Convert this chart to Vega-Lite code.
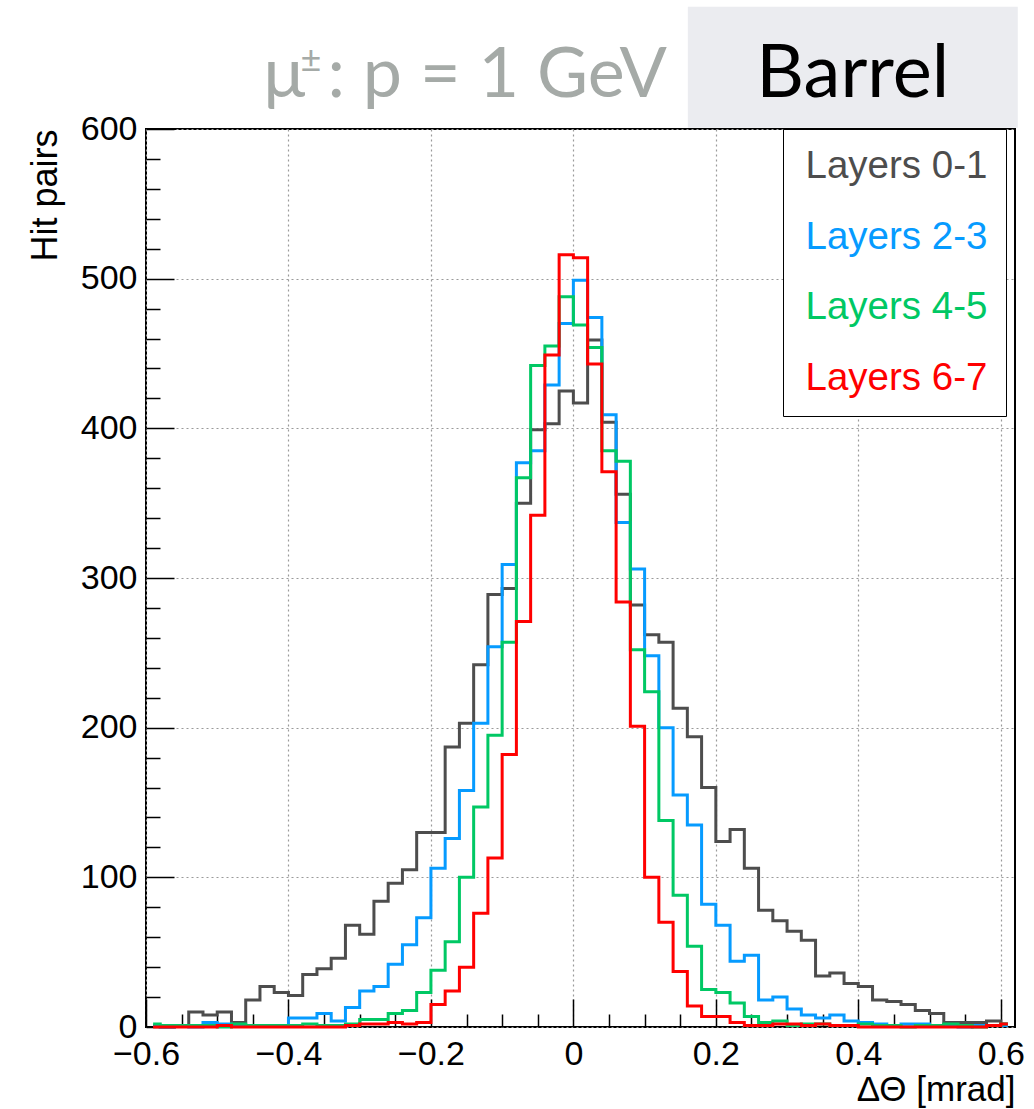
{
  "$schema": "https://vega.github.io/schema/vega-lite/v6.json",
  "width": 869,
  "height": 898,
  "autosize": {"type": "none"},
  "padding": {"left": 146, "top": 129, "right": 19, "bottom": 82},
  "background": "white",
  "config": {
    "view": {"stroke": "black", "strokeWidth": 2},
    "font": "Liberation Sans"
  },
  "datasets": {
    "hist": [
      {"x": -0.59, "Layers 0-1": 1, "Layers 2-3": 1, "Layers 4-5": 2, "Layers 6-7": 0},
      {"x": -0.57, "Layers 0-1": 0, "Layers 2-3": 0, "Layers 4-5": 1, "Layers 6-7": 0},
      {"x": -0.55, "Layers 0-1": 1, "Layers 2-3": 1, "Layers 4-5": 1, "Layers 6-7": 0},
      {"x": -0.53, "Layers 0-1": 10, "Layers 2-3": 0, "Layers 4-5": 1, "Layers 6-7": 0},
      {"x": -0.51, "Layers 0-1": 8, "Layers 2-3": 3, "Layers 4-5": 1, "Layers 6-7": 0},
      {"x": -0.49, "Layers 0-1": 10, "Layers 2-3": 2, "Layers 4-5": 0, "Layers 6-7": 1},
      {"x": -0.47, "Layers 0-1": 3, "Layers 2-3": 1, "Layers 4-5": 2, "Layers 6-7": 0},
      {"x": -0.45, "Layers 0-1": 18, "Layers 2-3": 1, "Layers 4-5": 1, "Layers 6-7": 0},
      {"x": -0.43, "Layers 0-1": 27, "Layers 2-3": 1, "Layers 4-5": 1, "Layers 6-7": 0},
      {"x": -0.41, "Layers 0-1": 23, "Layers 2-3": 1, "Layers 4-5": 1, "Layers 6-7": 0},
      {"x": -0.39, "Layers 0-1": 21, "Layers 2-3": 6, "Layers 4-5": 1, "Layers 6-7": 0},
      {"x": -0.37, "Layers 0-1": 35, "Layers 2-3": 6, "Layers 4-5": 2, "Layers 6-7": 0},
      {"x": -0.35, "Layers 0-1": 39, "Layers 2-3": 9, "Layers 4-5": 1, "Layers 6-7": 0},
      {"x": -0.33, "Layers 0-1": 46, "Layers 2-3": 4, "Layers 4-5": 1, "Layers 6-7": 0},
      {"x": -0.31, "Layers 0-1": 68, "Layers 2-3": 13, "Layers 4-5": 2, "Layers 6-7": 1},
      {"x": -0.29, "Layers 0-1": 62, "Layers 2-3": 24, "Layers 4-5": 5, "Layers 6-7": 2},
      {"x": -0.27, "Layers 0-1": 84, "Layers 2-3": 27, "Layers 4-5": 5, "Layers 6-7": 2},
      {"x": -0.25, "Layers 0-1": 96, "Layers 2-3": 42, "Layers 4-5": 9, "Layers 6-7": 3},
      {"x": -0.23, "Layers 0-1": 105, "Layers 2-3": 55, "Layers 4-5": 11, "Layers 6-7": 2},
      {"x": -0.21, "Layers 0-1": 130, "Layers 2-3": 73, "Layers 4-5": 23, "Layers 6-7": 3},
      {"x": -0.19, "Layers 0-1": 130, "Layers 2-3": 106, "Layers 4-5": 38, "Layers 6-7": 15},
      {"x": -0.17, "Layers 0-1": 187, "Layers 2-3": 126, "Layers 4-5": 57, "Layers 6-7": 24},
      {"x": -0.15, "Layers 0-1": 203, "Layers 2-3": 158, "Layers 4-5": 100, "Layers 6-7": 40},
      {"x": -0.13, "Layers 0-1": 242, "Layers 2-3": 203, "Layers 4-5": 147, "Layers 6-7": 76},
      {"x": -0.11, "Layers 0-1": 289, "Layers 2-3": 254, "Layers 4-5": 195, "Layers 6-7": 113},
      {"x": -0.09, "Layers 0-1": 293, "Layers 2-3": 309, "Layers 4-5": 257, "Layers 6-7": 182},
      {"x": -0.07, "Layers 0-1": 350, "Layers 2-3": 377, "Layers 4-5": 367, "Layers 6-7": 271},
      {"x": -0.05, "Layers 0-1": 399, "Layers 2-3": 385, "Layers 4-5": 442, "Layers 6-7": 342},
      {"x": -0.03, "Layers 0-1": 403, "Layers 2-3": 429, "Layers 4-5": 455, "Layers 6-7": 449},
      {"x": -0.01, "Layers 0-1": 425, "Layers 2-3": 470, "Layers 4-5": 488, "Layers 6-7": 516},
      {"x": 0.01, "Layers 0-1": 417, "Layers 2-3": 499, "Layers 4-5": 469, "Layers 6-7": 514},
      {"x": 0.03, "Layers 0-1": 459, "Layers 2-3": 474, "Layers 4-5": 454, "Layers 6-7": 443},
      {"x": 0.05, "Layers 0-1": 404, "Layers 2-3": 409, "Layers 4-5": 385, "Layers 6-7": 371},
      {"x": 0.07, "Layers 0-1": 356, "Layers 2-3": 337, "Layers 4-5": 378, "Layers 6-7": 284},
      {"x": 0.09, "Layers 0-1": 282, "Layers 2-3": 306, "Layers 4-5": 252, "Layers 6-7": 201},
      {"x": 0.11, "Layers 0-1": 262, "Layers 2-3": 248, "Layers 4-5": 224, "Layers 6-7": 100},
      {"x": 0.13, "Layers 0-1": 257, "Layers 2-3": 200, "Layers 4-5": 138, "Layers 6-7": 70},
      {"x": 0.15, "Layers 0-1": 213, "Layers 2-3": 155, "Layers 4-5": 88, "Layers 6-7": 37},
      {"x": 0.17, "Layers 0-1": 194, "Layers 2-3": 135, "Layers 4-5": 54, "Layers 6-7": 14},
      {"x": 0.19, "Layers 0-1": 160, "Layers 2-3": 82, "Layers 4-5": 25, "Layers 6-7": 7},
      {"x": 0.21, "Layers 0-1": 124, "Layers 2-3": 68, "Layers 4-5": 23, "Layers 6-7": 7},
      {"x": 0.23, "Layers 0-1": 132, "Layers 2-3": 44, "Layers 4-5": 16, "Layers 6-7": 3},
      {"x": 0.25, "Layers 0-1": 106, "Layers 2-3": 48, "Layers 4-5": 7, "Layers 6-7": 1},
      {"x": 0.27, "Layers 0-1": 78, "Layers 2-3": 18, "Layers 4-5": 3, "Layers 6-7": 1},
      {"x": 0.29, "Layers 0-1": 71, "Layers 2-3": 20, "Layers 4-5": 4, "Layers 6-7": 2},
      {"x": 0.31, "Layers 0-1": 64, "Layers 2-3": 12, "Layers 4-5": 1, "Layers 6-7": 2},
      {"x": 0.33, "Layers 0-1": 58, "Layers 2-3": 8, "Layers 4-5": 2, "Layers 6-7": 1},
      {"x": 0.35, "Layers 0-1": 34, "Layers 2-3": 6, "Layers 4-5": 2, "Layers 6-7": 2},
      {"x": 0.37, "Layers 0-1": 36, "Layers 2-3": 8, "Layers 4-5": 1, "Layers 6-7": 1},
      {"x": 0.39, "Layers 0-1": 29, "Layers 2-3": 4, "Layers 4-5": 1, "Layers 6-7": 1},
      {"x": 0.41, "Layers 0-1": 27, "Layers 2-3": 3, "Layers 4-5": 2, "Layers 6-7": 0},
      {"x": 0.43, "Layers 0-1": 18, "Layers 2-3": 2, "Layers 4-5": 1, "Layers 6-7": 0},
      {"x": 0.45, "Layers 0-1": 17, "Layers 2-3": 1, "Layers 4-5": 1, "Layers 6-7": 0},
      {"x": 0.47, "Layers 0-1": 15, "Layers 2-3": 2, "Layers 4-5": 0, "Layers 6-7": 0},
      {"x": 0.49, "Layers 0-1": 11, "Layers 2-3": 2, "Layers 4-5": 1, "Layers 6-7": 0},
      {"x": 0.51, "Layers 0-1": 9, "Layers 2-3": 1, "Layers 4-5": 1, "Layers 6-7": 0},
      {"x": 0.53, "Layers 0-1": 3, "Layers 2-3": 1, "Layers 4-5": 2, "Layers 6-7": 0},
      {"x": 0.55, "Layers 0-1": 3, "Layers 2-3": 0, "Layers 4-5": 1, "Layers 6-7": 0},
      {"x": 0.57, "Layers 0-1": 3, "Layers 2-3": 1, "Layers 4-5": 0, "Layers 6-7": 0},
      {"x": 0.59, "Layers 0-1": 4, "Layers 2-3": 1, "Layers 4-5": 1, "Layers 6-7": 1},
      {"x": 0.61, "Layers 0-1": 2, "Layers 2-3": 1, "Layers 4-5": 2, "Layers 6-7": 2}
    ]
  },
  "layer": [
    {
      "data": {"name": "hist"},
      "transform": [
        {"fold": ["Layers 0-1", "Layers 2-3", "Layers 4-5", "Layers 6-7"], "as": ["layer", "n"]}
      ],
      "mark": {"type": "line", "interpolate": "step", "strokeWidth": 3},
      "encoding": {
        "x": {
          "field": "x",
          "type": "quantitative",
          "scale": {"domain": [-0.6, 0.62], "nice": false, "zero": false},
          "axis": {
            "values": [-0.6, -0.55, -0.5, -0.45, -0.4, -0.35, -0.3, -0.25, -0.2, -0.15, -0.1, -0.05, 0, 0.05, 0.1, 0.15, 0.2, 0.25, 0.3, 0.35, 0.4, 0.45, 0.5, 0.55, 0.6],
            "tickCount": 200,
            "title": "ΔΘ [mrad]",
            "titleAnchor": "end",
            "titleFont": "Liberation Sans",
            "titleFontSize": 35,
            "titleFontWeight": "normal",
            "titleColor": "black",
            "titlePadding": -14,
            "labelExpr": "abs(datum.value*5 - round(datum.value*5)) < 0.001 ? (datum.value == 0 ? '0' : format(datum.value, '.1f')) : ''",
            "labelFont": "Liberation Sans",
            "labelFontSize": 34,
            "labelColor": "black",
            "labelPadding": 38,
            "labelFlush": false,
            "labelOverlap": false,
            "labelBound": false,
            "domain": false,
            "tickColor": "black",
            "tickWidth": 1.5,
            "tickSize": {"condition": {"test": "abs(datum.value*5 - round(datum.value*5)) < 0.001", "value": -28}, "value": -13},
            "grid": true,
            "gridColor": "#9a9a9a",
            "gridDash": [2, 3],
            "gridWidth": 1.2,
            "gridOpacity": {"condition": {"test": "abs(datum.value*5 - round(datum.value*5)) < 0.001", "value": 1}, "value": 0}
          }
        },
        "y": {
          "field": "n",
          "type": "quantitative",
          "scale": {"domain": [0, 600], "nice": false, "zero": true},
          "axis": {
            "values": [0, 20, 40, 60, 80, 100, 120, 140, 160, 180, 200, 220, 240, 260, 280, 300, 320, 340, 360, 380, 400, 420, 440, 460, 480, 500, 520, 540, 560, 580, 600],
            "tickCount": 200,
            "title": "Hit pairs",
            "titleAnchor": "end",
            "titleFont": "Liberation Sans",
            "titleFontSize": 36,
            "titleFontWeight": "normal",
            "titleColor": "black",
            "titlePadding": 16,
            "labelExpr": "datum.value % 100 == 0 ? format(datum.value, 'd') : ''",
            "labelFont": "Liberation Sans",
            "labelFontSize": 34,
            "labelColor": "black",
            "labelPadding": 37,
            "labelFlush": false,
            "labelOverlap": false,
            "labelBound": false,
            "domain": false,
            "tickColor": "black",
            "tickWidth": 1.5,
            "tickSize": {"condition": {"test": "datum.value % 100 == 0", "value": -28}, "value": -14},
            "grid": true,
            "gridColor": "#9a9a9a",
            "gridDash": [2, 3],
            "gridWidth": 1.2,
            "gridOpacity": {"condition": {"test": "datum.value % 100 == 0", "value": 1}, "value": 0}
          }
        },
        "color": {
          "field": "layer",
          "type": "nominal",
          "scale": {
            "domain": ["Layers 0-1", "Layers 2-3", "Layers 4-5", "Layers 6-7"],
            "range": ["#4d4d4d", "#069bff", "#00c864", "#ff0000"]
          },
          "legend": {
            "orient": "none",
            "legendX": 637,
            "legendY": 0,
            "title": null,
            "labelFont": "Liberation Sans",
            "labelFontSize": 38.5,
            "labelLimit": 400,
            "labelOffset": -34,
            "symbolType": "circle",
            "symbolSize": 1,
            "symbolOpacity": 0,
            "symbolStrokeWidth": 0,
            "padding": 18,
            "rowPadding": 31.5,
            "strokeColor": "black",
            "fillColor": "white",
            "encode": {"labels": {"update": {"fill": {"scale": "color", "field": "value"}}}}
          }
        }
      }
    },
    {
      "data": {"values": [{}]},
      "mark": {"type": "rect", "fill": "#ebecf0"},
      "encoding": {
        "x": {"datum": 0.1607},
        "x2": {"datum": 0.6239},
        "y": {"datum": 600.9},
        "y2": {"datum": 681.7}
      }
    },
    {
      "data": {"values": [{}]},
      "mark": {"type": "text", "text": "Barrel", "font": "Lato", "fontSize": 74, "align": "center", "baseline": "alphabetic", "color": "black"},
      "encoding": {"x": {"datum": 0.3923}, "y": {"datum": 621.6}}
    },
    {
      "data": {"values": [{}]},
      "mark": {"type": "text", "text": "µ", "font": "Lato", "fontSize": 70, "align": "left", "baseline": "alphabetic", "color": "#a5aaa7"},
      "encoding": {"x": {"datum": -0.437}, "y": {"datum": 621.6}}
    },
    {
      "data": {"values": [{}]},
      "mark": {"type": "text", "text": "±", "font": "Lato", "fontSize": 36, "align": "left", "baseline": "alphabetic", "color": "#a5aaa7"},
      "encoding": {"x": {"datum": -0.383}, "y": {"datum": 638.3}}
    },
    {
      "data": {"values": [{}]},
      "mark": {"type": "text", "text": ": p = 1 GeV", "font": "Lato", "fontSize": 70, "align": "right", "baseline": "alphabetic", "color": "#a5aaa7"},
      "encoding": {"x": {"datum": 0.1312}, "y": {"datum": 621.6}}
    }
  ]
}
